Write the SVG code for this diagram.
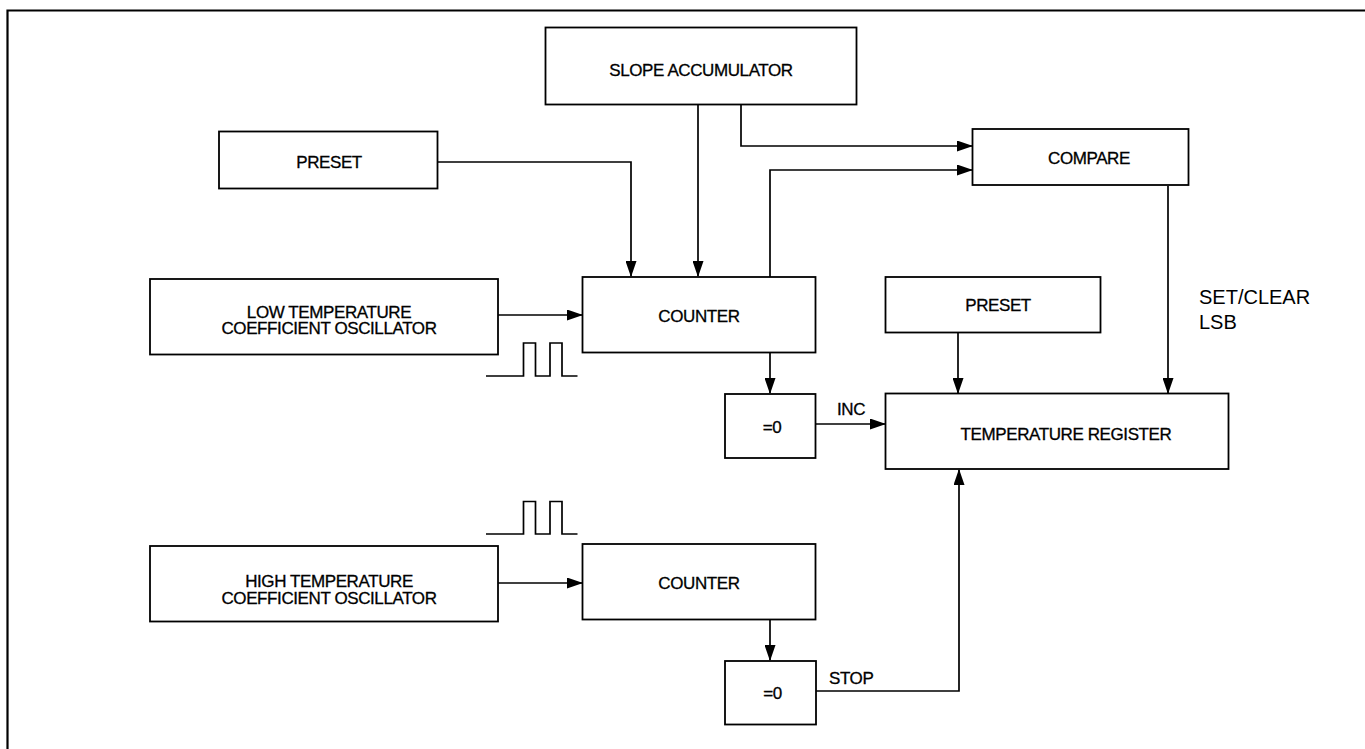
<svg xmlns="http://www.w3.org/2000/svg" width="1365" height="749" viewBox="0 0 1365 749">
<defs>
<marker id="ah" markerWidth="16" markerHeight="11" refX="15" refY="5.5" orient="auto" markerUnits="userSpaceOnUse">
<path d="M0,0 L16,5.5 L0,11 Z" fill="#000"/>
</marker>
<style>
.box{fill:#fff;stroke:#000;stroke-width:1.8}
.t{font-family:"Liberation Sans",Arial,sans-serif;font-size:17px;fill:#000;stroke:#000;stroke-width:0.3;text-anchor:middle;dominant-baseline:central;letter-spacing:-0.4px}
.lbl{font-family:"Liberation Sans",Arial,sans-serif;font-size:17px;fill:#000;stroke:#000;stroke-width:0.3;dominant-baseline:central;letter-spacing:-0.4px}
.big{font-family:"Liberation Sans",Arial,sans-serif;font-size:20px;fill:#000;dominant-baseline:central}
.w{fill:none;stroke:#000;stroke-width:1.7}
.c{fill:none;stroke:#000;stroke-width:1.7}
</style>
</defs>
<rect width="1365" height="749" fill="#fff"/>
<path d="M7.5,749 V10.5 H1365" fill="none" stroke="#000" stroke-width="2.2"/>

<g id="connectors">
<path class="c" d="M698,105 V276" marker-end="url(#ah)"/>
<path class="c" d="M741,105 V146 H972" marker-end="url(#ah)"/>
<path class="c" d="M437,162 H631 V276" marker-end="url(#ah)"/>
<path class="c" d="M498,315 H582" marker-end="url(#ah)"/>
<path class="c" d="M770,277 V170 H972" marker-end="url(#ah)"/>
<path class="c" d="M770,353 V393" marker-end="url(#ah)"/>
<path class="c" d="M1168,186 V393" marker-end="url(#ah)"/>
<path class="c" d="M958,333 V393" marker-end="url(#ah)"/>
<path class="c" d="M816,424 H885" marker-end="url(#ah)"/>
<path class="c" d="M498,583 H582" marker-end="url(#ah)"/>
<path class="c" d="M770,620 V660" marker-end="url(#ah)"/>
<path class="c" d="M816,691 H959 V470" marker-end="url(#ah)"/>
</g>

<g id="slope-accumulator"><rect class="box" x="545.5" y="27.5" width="311" height="77"/><text class="t" x="701" y="70">SLOPE ACCUMULATOR</text></g>
<g id="preset-1"><rect class="box" x="219" y="131.5" width="218.5" height="57"/><text class="t" x="329" y="162">PRESET</text></g>
<g id="compare"><rect class="box" x="972.5" y="129" width="216" height="56"/><text class="t" x="1089" y="158">COMPARE</text></g>
<g id="low-temp-oscillator"><rect class="box" x="150" y="279" width="348" height="75.5"/><text class="t" x="329" y="312">LOW TEMPERATURE</text><text class="t" x="329" y="328.5">COEFFICIENT OSCILLATOR</text></g>
<g id="counter-1"><rect class="box" x="582.5" y="277" width="233" height="75.5"/><text class="t" x="699" y="316">COUNTER</text></g>
<g id="preset-2"><rect class="box" x="885.5" y="277" width="215" height="55.5"/><text class="t" x="998" y="305">PRESET</text></g>
<g id="set-clear-label"><text class="big" x="1199" y="297">SET/CLEAR</text><text class="big" x="1199" y="322">LSB</text></g>
<g id="zero-1"><rect class="box" x="725" y="394" width="90.5" height="64"/><text class="t" x="772" y="427">=0</text></g>
<g id="inc-label"><text class="lbl" x="837" y="409">INC</text></g>
<g id="temperature-register"><rect class="box" x="885.5" y="393.5" width="343" height="75.5"/><text class="t" x="1066" y="434">TEMPERATURE REGISTER</text></g>
<g id="pulse-1"><path class="w" d="M486,376 H523.5 V343 H535.5 V376 H550 V343 H562 V376 H577.5"/></g>
<g id="pulse-2"><path class="w" d="M486,534 H523.5 V501.5 H535.5 V534 H550 V501.5 H562 V534 H577.5"/></g>
<g id="high-temp-oscillator"><rect class="box" x="150" y="546" width="348" height="75.5"/><text class="t" x="329" y="581">HIGH TEMPERATURE</text><text class="t" x="329" y="598.5">COEFFICIENT OSCILLATOR</text></g>
<g id="counter-2"><rect class="box" x="582.5" y="544" width="233" height="75.5"/><text class="t" x="699" y="583">COUNTER</text></g>
<g id="zero-2"><rect class="box" x="725" y="661" width="91" height="63.5"/><text class="t" x="772.5" y="693">=0</text></g>
<g id="stop-label"><text class="lbl" x="829" y="678">STOP</text></g>
</svg>
